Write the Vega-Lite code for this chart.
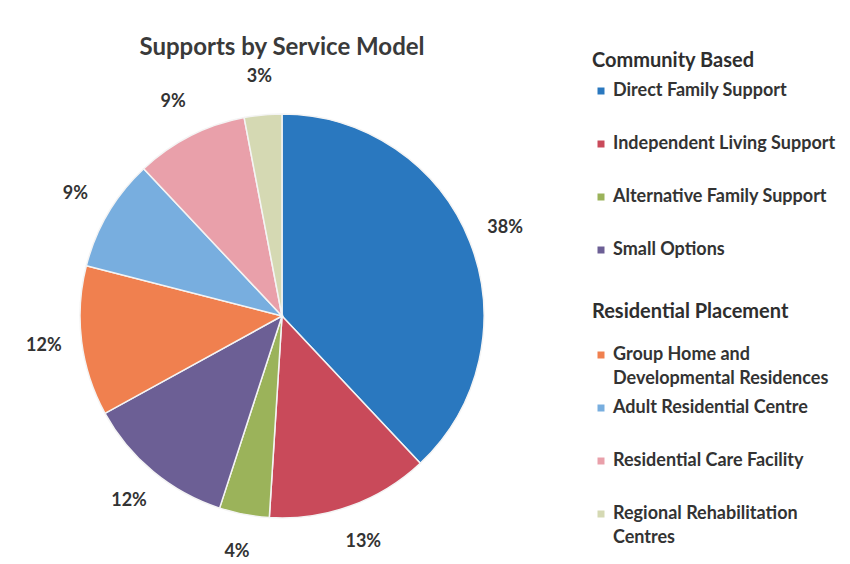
{
  "$schema": "https://vega.github.io/schema/vega-lite/v6.json",
  "width": 564,
  "height": 500,
  "padding": {"top": 36, "left": 0, "right": 0, "bottom": 0},
  "background": "white",
  "title": {
    "text": "Supports by Service Model",
    "fontSize": 24,
    "font": "Lato",
    "fontWeight": "bold",
    "color": "#3a3a3a",
    "anchor": "middle",
    "offset": -9
  },
  "data": {
    "values": [
      {"order": 1, "model": "Direct Family Support", "group": "Community Based", "value": 38, "label": "38%"},
      {"order": 2, "model": "Independent Living Support", "group": "Community Based", "value": 13, "label": "13%"},
      {"order": 3, "model": "Alternative Family Support", "group": "Community Based", "value": 4, "label": "4%"},
      {"order": 4, "model": "Small Options", "group": "Community Based", "value": 12, "label": "12%"},
      {"order": 5, "model": "Group Home and|Developmental Residences", "group": "Residential Placement", "value": 12, "label": "12%"},
      {"order": 6, "model": "Adult Residential Centre", "group": "Residential Placement", "value": 9, "label": "9%"},
      {"order": 7, "model": "Residential Care Facility", "group": "Residential Placement", "value": 9, "label": "9%"},
      {"order": 8, "model": "Regional Rehabilitation|Centres", "group": "Residential Placement", "value": 3, "label": "3%"}
    ]
  },
  "transform": [
    {"stack": "value", "groupby": [], "sort": [{"field": "order"}], "as": ["start", "end"]}
  ],
  "layer": [
    {
      "transform": [{"filter": "datum.group == 'Community Based'"}],
      "mark": {"type": "arc", "outerRadius": 202, "stroke": "#f4f4f4", "strokeWidth": 1.5},
      "encoding": {
        "theta": {"field": "start", "type": "quantitative", "scale": {"domain": [0, 100]}},
        "theta2": {"field": "end"},
        "color": {
          "field": "model",
          "type": "nominal",
          "scale": {
            "domain": ["Direct Family Support", "Independent Living Support", "Alternative Family Support", "Small Options"],
            "range": ["#2a78bf", "#c94a5a", "#9bb35a", "#6c5f95"]
          },
          "legend": {
            "title": "Community Based",
            "orient": "none",
            "legendX": 592,
            "legendY": -15,
            "symbolType": "square",
            "symbolSize": 49,
            "symbolStrokeWidth": 0,
            "labelFont": "Lato",
            "labelFontSize": 18,
            "labelFontWeight": "bold",
            "labelColor": "#333333",
            "labelOffset": 3,
            "titleFont": "Lato",
            "titleFontSize": 20,
            "titleFontWeight": "bold",
            "titleColor": "#2e2e2e",
            "titleLimit": 300,
            "titlePadding": 11,
            "rowPadding": 35,
            "padding": 0,
            "labelLimit": 260
          }
        }
      }
    },
    {
      "transform": [{"filter": "datum.group == 'Residential Placement'"}],
      "mark": {"type": "arc", "outerRadius": 202, "stroke": "#f4f4f4", "strokeWidth": 1.5},
      "encoding": {
        "theta": {"field": "start", "type": "quantitative", "scale": {"domain": [0, 100]}},
        "theta2": {"field": "end"},
        "fill": {
          "field": "model",
          "type": "nominal",
          "scale": {
            "domain": ["Group Home and|Developmental Residences", "Adult Residential Centre", "Residential Care Facility", "Regional Rehabilitation|Centres"],
            "range": ["#f0804f", "#78aedf", "#e9a0aa", "#d5d9b3"]
          },
          "legend": {
            "title": "Residential Placement",
            "orient": "none",
            "legendX": 592,
            "legendY": 236,
            "gridAlign": "all",
            "symbolType": "square",
            "symbolSize": 49,
            "symbolStrokeWidth": 0,
            "labelFont": "Lato",
            "labelFontSize": 18,
            "labelFontWeight": "bold",
            "labelColor": "#333333",
            "labelOffset": 3,
            "labelExpr": "split(datum.label, '|')",
            "titleFont": "Lato",
            "titleFontSize": 20,
            "titleFontWeight": "bold",
            "titleColor": "#2e2e2e",
            "titleLimit": 300,
            "titlePadding": 24,
            "rowPadding": 11,
            "padding": 0,
            "labelLimit": 260
          }
        }
      }
    },
    {
      "mark": {"type": "text", "radius": 240, "font": "Lato", "fontSize": 18, "fontWeight": "bold", "color": "#333333"},
      "encoding": {
        "theta": {"field": "value", "type": "quantitative", "stack": true},
        "order": {"field": "order", "type": "quantitative"},
        "text": {"field": "label", "type": "nominal"}
      }
    }
  ],
  "config": {
    "view": {"stroke": null},
    "style": {"guide-label": {"lineHeight": 24}}
  }
}
